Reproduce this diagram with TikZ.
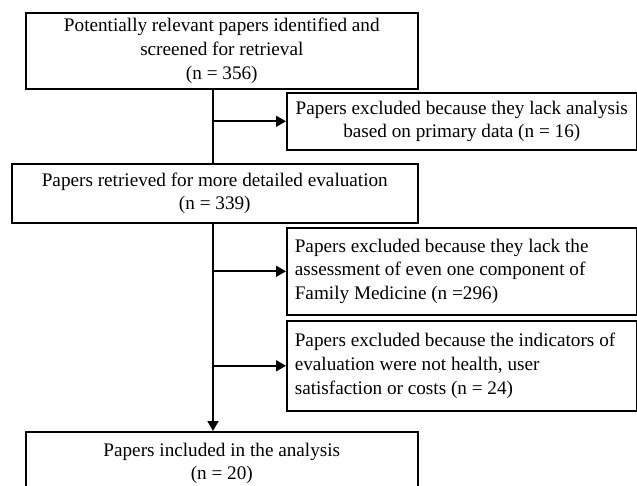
\documentclass[tikz,border=0pt]{standalone}
\usepackage{fontspec}
\setmainfont{Liberation Serif}
\usetikzlibrary{arrows.meta,positioning,calc}
\tikzset{
  box/.style   = { draw, line width=0.8pt, anchor=north west, inner sep=0pt,
    align=center, font=\fontsize{9.6}{11.8}\selectfont },
  exbox/.style = { box, align=flush left, text width=167pt, inner xsep=4pt,
    minimum height=#1 },
  arr/.style   = { -{Triangle[length=5pt,width=5.5pt]}, line width=0.8pt },
  trunk/.style = { line width=0.8pt }
}
\begin{document}
\begin{tikzpicture}[x=0.5pt,y=-0.5pt]
  \clip (0,0) rectangle (637,486);
  % main stream: 356 -> 339 -> 20
  \node[box, minimum width=196pt, minimum height=38pt] (ident) at (25,12)
    {Potentially relevant papers identified and\\ screened for retrieval\\ (n = 356)};
  \node[box, minimum width=203pt, minimum height=29.5pt] (retr) at (11,163)
    {Papers retrieved for more detailed evaluation\\ (n = 339)};
  \node[box, minimum width=196pt, minimum height=31.5pt] (incl) at (25,431)
    {Papers included in the analysis\\ (n = 20)};
  % exclusions
  \node[box, minimum width=175pt, minimum height=28.5pt] (excl1) at (286,92)
    {Papers excluded because they lack analysis\\ based on primary data (n = 16)};
  \node[exbox=43.5pt] (excl2) at (286,227)
    {Papers excluded because they lack the\\ assessment of even one component of\\ Family Medicine (n =296)};
  \node[exbox=45pt] (excl3) at (286,320)
    {Papers excluded because the indicators of\\ evaluation were not health, user\\ satisfaction or costs (n = 24)};
  \coordinate (spine) at (213,0);
  \draw[trunk] (ident.south -| spine) -- (retr.north -| spine);
  \draw[arr] (retr.south -| spine) -- (incl.north -| spine);
  \draw[arr] (spine |- excl1.west) -- (excl1.west);
  \draw[arr] (spine |- excl2.west) -- (excl2.west);
  \draw[arr] (spine |- excl3.west) -- (excl3.west);
\end{tikzpicture}
\end{document}
